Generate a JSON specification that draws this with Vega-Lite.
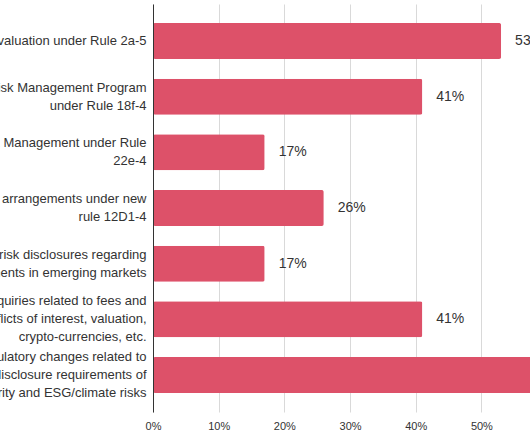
{
  "$schema": "https://vega.github.io/schema/vega-lite/v6.json",
  "width": 377,
  "height": 408,
  "autosize": {"type": "none"},
  "padding": {"left": 153, "top": 4, "right": 0, "bottom": 30},
  "background": "white",
  "config": {"view": {"stroke": null}, "font": "Liberation Sans"},
  "data": {
    "values": [
      {"label": "Fair valuation under Rule 2a-5", "value": 0.53},
      {"label": "Derivatives Risk Management Program|under Rule 18f-4", "value": 0.41},
      {"label": "Liquidity Risk Management under Rule|22e-4", "value": 0.17},
      {"label": "Fund of funds arrangements under new|rule 12D1-4", "value": 0.26},
      {"label": "Enhanced risk disclosures regarding|investments in emerging markets", "value": 0.17},
      {"label": "SEC inquiries related to fees and|conflicts of interest, valuation,|crypto-currencies, etc.", "value": 0.41},
      {"label": "New regulatory changes related to|enhanced disclosure requirements of|cybersecurity and ESG/climate risks", "value": 0.6}
    ]
  },
  "encoding": {
    "y": {
      "field": "label",
      "type": "nominal",
      "sort": null,
      "scale": {"paddingInner": 0.353, "paddingOuter": 0.341},
      "axis": {
        "title": null,
        "labelExpr": "split(datum.label, '|')",
        "labelFontSize": 13,
        "labelColor": "#333333",
        "labelLineHeight": 18,
        "labelLimit": 0,
        "labelPadding": 7,
        "labelOffset": {
          "condition": [
            {"test": "length(split(datum.label, '|')) == 3", "value": -18},
            {"test": "length(split(datum.label, '|')) == 2", "value": -9}
          ],
          "value": 0
        },
        "ticks": false,
        "domainColor": "#333333",
        "grid": false,
        "zindex": 1
      }
    },
    "x": {
      "field": "value",
      "type": "quantitative",
      "scale": {"domain": [0, 0.574], "nice": false},
      "axis": {
        "title": null,
        "values": [0, 0.1, 0.2, 0.3, 0.4, 0.5],
        "format": ".0%",
        "domain": false,
        "ticks": false,
        "labelFlush": false,
        "gridColor": "#d9d9d9",
        "labelFontSize": 11,
        "labelColor": "#333333",
        "labelPadding": 8
      }
    }
  },
  "layer": [
    {"mark": {"type": "bar", "color": "#DD5169", "cornerRadius": 2}},
    {
      "mark": {"type": "text", "align": "left", "dx": 14, "fontSize": 14, "color": "#333333"},
      "encoding": {"text": {"field": "value", "type": "quantitative", "format": ".0%"}}
    }
  ]
}
